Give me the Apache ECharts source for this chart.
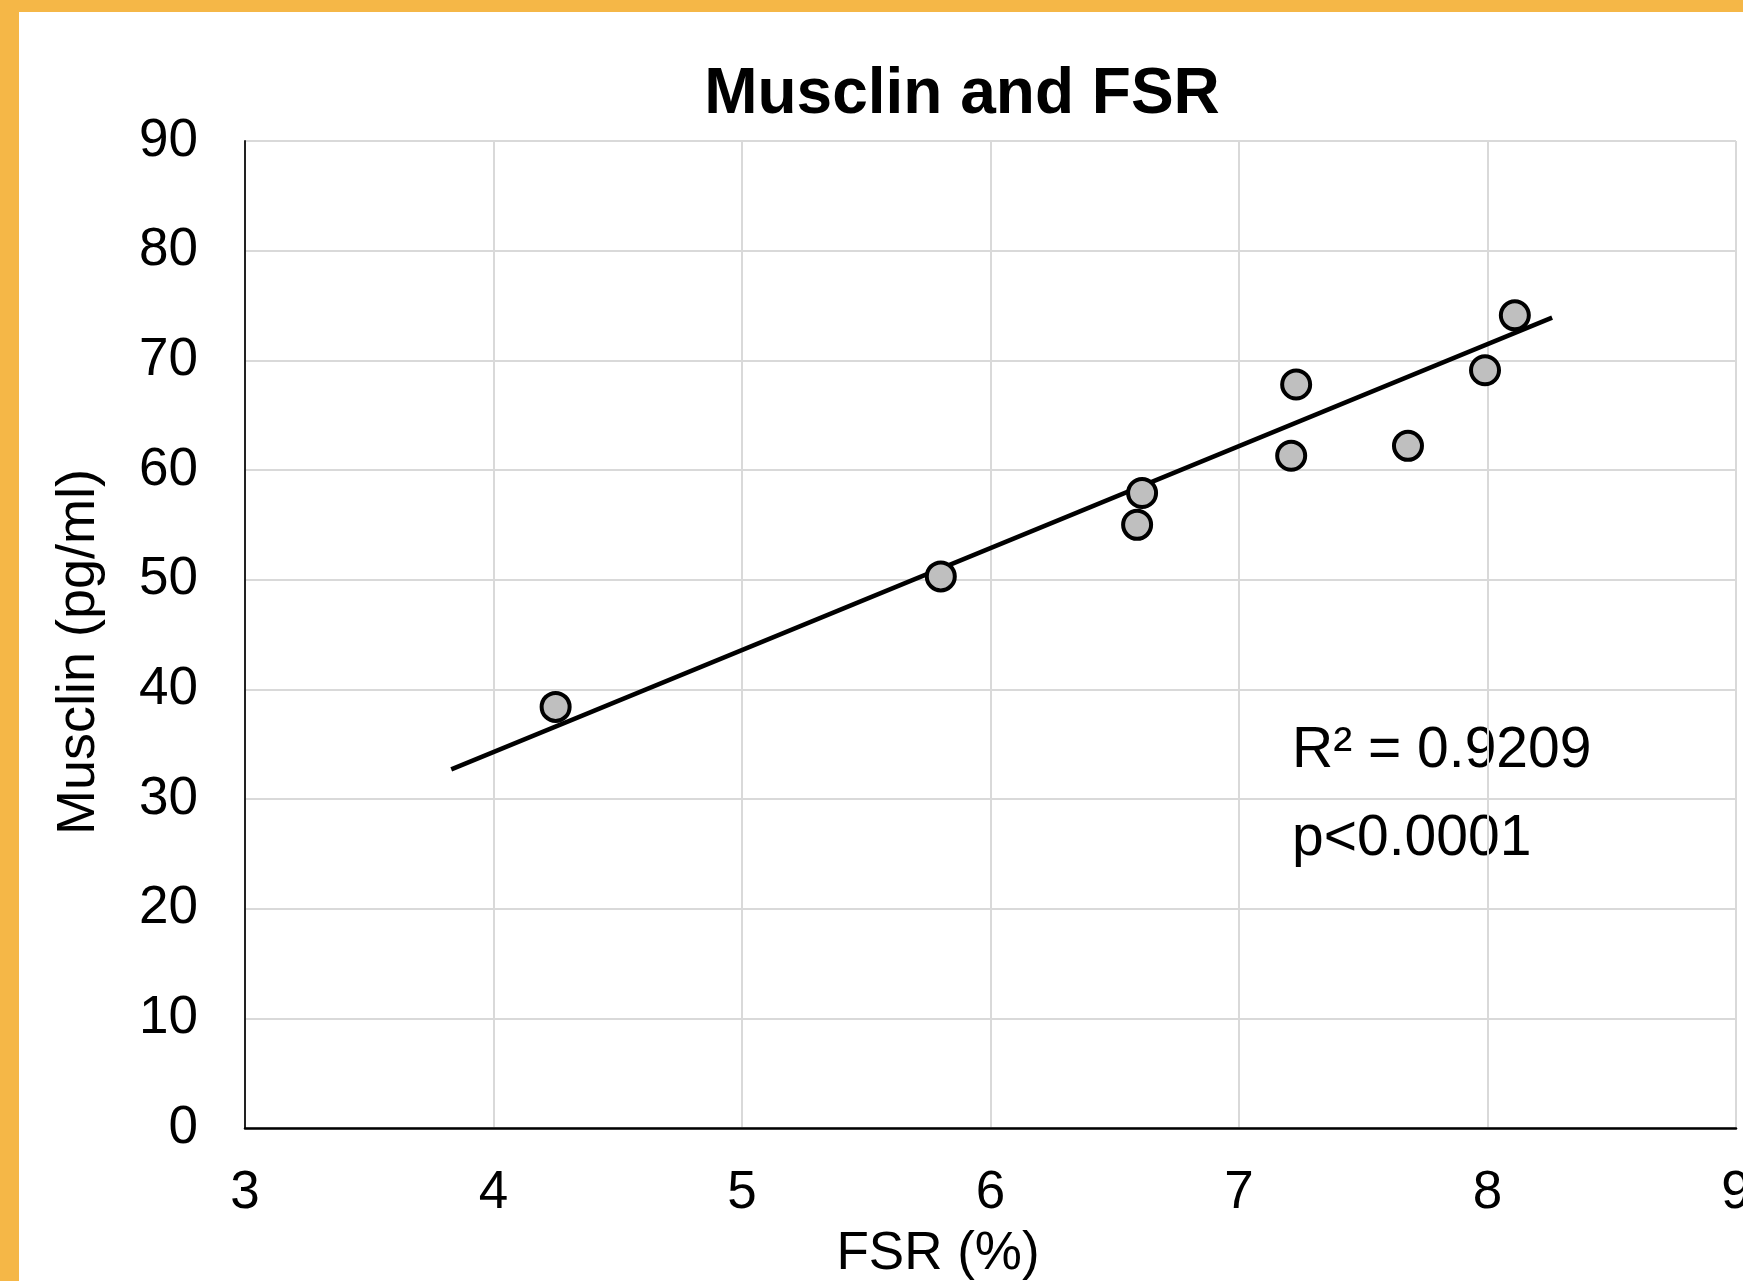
<!DOCTYPE html>
<html>
<head>
<meta charset="utf-8">
<script src="https://cdn.jsdelivr.net/npm/echarts@6/dist/echarts.min.js"></script>
<style>
  html, body { margin: 0; padding: 0; background: #fff; overflow: hidden; }
  #chart { position: absolute; left: 0; top: 0; width: 1743px; height: 1281px; }
  .edge { position: absolute; background: #f5b747; z-index: 5; }
  #edgeTop { left: 0; top: 0; width: 1743px; height: 12px; }
  #edgeLeft { left: 0; top: 0; width: 19px; height: 1281px; }
</style>
</head>
<body>
<div id="chart"></div>
<div class="edge" id="edgeTop"></div>
<div class="edge" id="edgeLeft"></div>
<script>
  // FSR (%) vs Musclin (pg/ml)
  const fsr = [4.25, 5.80, 6.59, 6.61, 7.21, 7.23, 7.68, 7.99, 8.11];
  const musclin = [38.4, 50.3, 55.0, 57.9, 61.3, 67.8, 62.2, 69.1, 74.1];

  // trend line end points
  const trendFsr = [3.83, 8.26];
  const trendMusclin = [32.7, 73.9];

  const statsLines = ['R\u00b2 = 0.9209', 'p<0.0001'];

  const font = 'Liberation Sans';
  const chart = echarts.init(document.getElementById('chart'));

  const option = {
    backgroundColor: '#fff',
    animation: false,
    title: {
      text: 'Musclin and FSR',
      left: 962,
      top: 63,
      padding: 0,
      textAlign: 'center',
      textStyle: { fontFamily: font, fontSize: 64, fontWeight: 'bold', color: '#000' }
    },
    grid: { left: 245, right: 7, top: 141, bottom: 153, outerBoundsMode: 'none', containLabel: false },
    xAxis: {
      type: 'value',
      min: 3,
      max: 9,
      interval: 1,
      name: 'FSR (%)',
      nameLocation: 'middle',
      nameGap: 100,
      nameTextStyle: { fontFamily: font, fontSize: 53, color: '#000', padding: [0, 105, 0, 0] },
      axisLine: { show: true, onZero: false, lineStyle: { color: '#000', width: 2.5 } },
      axisTick: { show: false },
      axisLabel: { fontFamily: font, fontSize: 53, color: '#000', margin: 39 },
      splitLine: { show: true, lineStyle: { color: '#d9d9d9', width: 2 } }
    },
    yAxis: {
      type: 'value',
      min: 0,
      max: 90,
      interval: 10,
      name: 'Musclin (pg/ml)',
      nameLocation: 'middle',
      nameGap: 139,
      nameTextStyle: { fontFamily: font, fontSize: 54, color: '#000', padding: [0, 35, 0, 0] },
      axisLine: { show: true, onZero: false, lineStyle: { color: '#222', width: 2 } },
      axisTick: { show: false },
      axisLabel: { fontFamily: font, fontSize: 53, color: '#000', margin: 47 },
      splitLine: { show: true, lineStyle: { color: '#d9d9d9', width: 2 } }
    },
    series: [
      {
        name: 'Trend',
        type: 'line',
        data: trendFsr.map((x, i) => [x, trendMusclin[i]]),
        showSymbol: false,
        symbol: 'none',
        lineStyle: { color: '#000', width: 4.5 },
        z: 2
      },
      {
        name: 'Musclin',
        type: 'scatter',
        data: fsr.map((x, i) => [x, musclin[i]]),
        symbol: 'circle',
        symbolSize: 28,
        itemStyle: { color: '#bfbfbf', borderColor: '#000', borderWidth: 4, opacity: 1 },
        z: 3
      }
    ],
    graphic: [
      {
        type: 'text',
        left: 1292,
        top: 707,
        style: {
          text: statsLines.join('\n'),
          font: '57px "Liberation Sans"',
          lineHeight: 88,
          fill: '#000'
        }
      }
    ]
  };

  chart.setOption(option);
</script>
</body>
</html>
